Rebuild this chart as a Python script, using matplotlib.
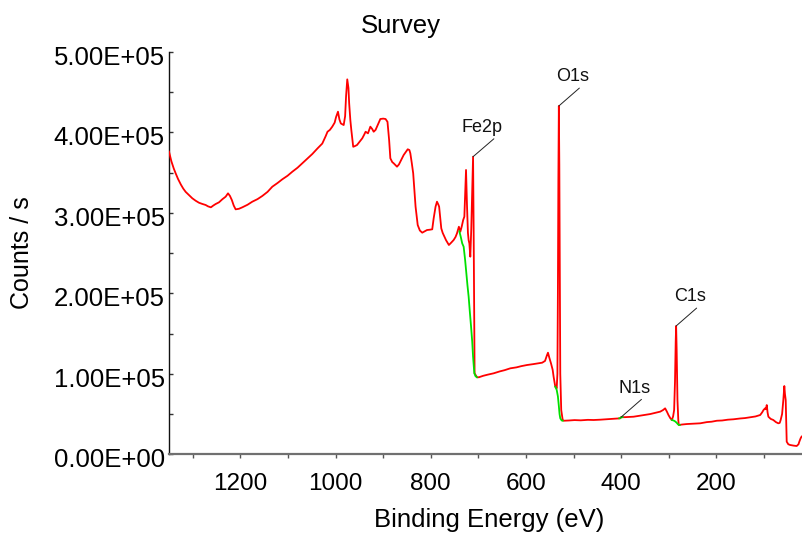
import matplotlib
matplotlib.use("Agg")
import matplotlib.pyplot as plt
import matplotlib.transforms as mtransforms
from matplotlib.ticker import FixedLocator, FuncFormatter

plt.rcParams["font.family"] = ["Liberation Sans", "DejaVu Sans"]

# Survey spectrum: binding energy (eV) and intensity (counts / s)
survey_be = [
    1350, 1345, 1340, 1336, 1331, 1325, 1320, 1315, 1308, 1301, 1294, 1287,
    1280, 1273, 1268, 1262, 1257, 1252, 1245, 1238, 1231, 1226, 1222, 1218,
    1214, 1210, 1203, 1196, 1185, 1175, 1164, 1154, 1143, 1133, 1122, 1112,
    1101, 1091, 1080, 1070, 1060, 1049, 1038, 1028, 1021, 1017, 1012, 1007,
    1002, 999, 995, 992, 989, 983, 980, 978, 975.5, 973, 971.5, 969, 967,
    963, 959, 955, 950, 944, 940, 937, 932, 927, 923, 920, 916, 913, 909,
    906, 900, 895, 891, 889, 887.5, 885, 881, 878, 874, 871, 867, 864, 860,
    857, 852, 848.5, 845, 843, 840, 837, 834, 832, 829, 827.5, 823, 818,
    813, 808, 802, 797, 794, 790, 787, 784, 782.5, 780, 778, 775, 773, 768,
    762, 757, 752, 748, 745, 741, 738, 735, 732, 729.5, 728, 726, 724, 722,
    720.5, 719, 717, 715, 713, 711.2, 710, 709, 708, 705, 703, 699, 690,
    680, 668, 655, 645, 633, 620, 610, 598, 585, 575, 566, 560, 556, 553.8,
    551, 547.5, 544, 542, 538.5, 535.5, 534, 533, 532, 531, 530, 529, 528,
    526, 523, 521, 510, 498, 485, 470, 458, 444, 430, 418, 402, 400.5, 390,
    374, 360, 350, 339, 328, 318, 312, 307.7, 304, 300.7, 297, 293.6, 291,
    288.8, 287, 285.5, 284.6, 283.5, 282.5, 281.8, 280, 279, 272, 262, 250,
    234, 220, 210, 199, 188, 176, 164, 150, 140, 129, 118, 108, 104, 101,
    97.8, 96, 94.2, 92.5, 90.8, 86, 80.4, 75, 70, 67, 65, 62, 59.4, 57.3,
    56, 54.4, 53, 52.3, 49, 45.3, 38, 31.3, 27.5, 25.8, 23, 21,
]
survey_counts = [
    376000, 364000, 355000, 349000, 342000, 335000, 330000, 326000, 322000,
    318000, 315000, 312500, 311000, 309700, 308000, 306800, 309000, 310900,
    313000, 316800, 320000, 324200, 321000, 315900, 309000, 304300, 305000,
    306800, 310000, 313800, 317000, 320900, 326000, 332400, 337000, 341600,
    346000, 351000, 356000, 361500, 367000, 373000, 380000, 386000, 395000,
    400700, 403000, 407000, 412000, 419000, 425600, 416000, 411000, 409000,
    420000, 445000, 465800, 455000, 436000, 415000, 403000, 382000, 383000,
    384200, 388000, 392500, 397000, 400700, 398700, 407000, 404000, 400700,
    403000, 407000, 412000, 416500, 417000, 416500, 413000, 400000, 390000,
    367700, 363000, 361500, 359000, 357300, 360000, 363500, 368000, 371800,
    376000, 378900, 378000, 373900, 362000, 349100, 325000, 307600, 293000,
    284800, 278000, 275300, 277000, 278600, 279000, 279500, 293000, 307600,
    313800, 310000, 307600, 293000, 280700, 275000, 272400, 266000, 260000,
    263000, 266200, 270000, 274500, 282700, 276500, 283000, 291000, 295200,
    320000, 353200, 310000, 275000, 266000, 262000, 245500, 280000, 330000,
    369700, 280000, 180000, 100600, 97500, 95700, 95700, 97500, 99000,
    100600, 103000, 104500, 106800, 108000, 109500, 110900, 112000, 113000,
    113800, 116000, 123000, 126200, 120000, 113000, 105000, 96400, 84000,
    82000, 100000, 200000, 340000, 432700, 360000, 220000, 100000, 55000,
    43000, 41700, 42000, 42500, 42200, 42800, 42600, 43000, 43600, 44000,
    44700, 46000, 46200, 46700, 48000, 49000, 50000, 51500, 53000, 55000,
    57100, 53000, 48800, 45000, 42600, 47000, 55000, 90000, 140000, 159400,
    130000, 90000, 67400, 42000, 36400, 37000, 37600, 38000, 38500, 40000,
    40500, 41700, 42000, 43000, 43500, 44500, 45000, 46000, 47000, 48800,
    52000, 55000, 57100, 56000, 61200, 52000, 46700, 44000, 42600, 40000,
    38500, 39000, 42600, 50000, 67400, 84800, 75000, 67400, 35000, 15700,
    12500, 11600, 10800, 10300, 12500, 15700, 20000, 22000,
]

# Shirley-type backgrounds under the fitted regions
fe2p_bg_be = [740, 737, 734, 731, 728, 725.3, 723, 720.5, 718, 715.4, 713,
              711.2, 709.5, 708.5, 706, 703]
fe2p_bg_counts = [277000, 270000, 262000, 257900, 242000, 224800, 210000,
                  195800, 177000, 158500, 140000, 121200, 108000, 100600,
                  97000, 95700]
o1s_bg_be = [538.5, 535.5, 533, 531, 529.5, 528, 525, 523]
o1s_bg_counts = [84000, 80000, 72000, 60000, 50000, 44700, 42000, 41700]
n1s_bg_be = [404, 402, 400, 397]
n1s_bg_counts = [44700, 45000, 46000, 46200]
c1s_bg_be = [293.6, 290, 287, 284, 281, 279, 277]
c1s_bg_counts = [42600, 42000, 41000, 39500, 37500, 36400, 36500]

# Peak labels: name, binding energy and intensity of the labelled peak
peak_names = ["Fe2p", "O1s", "N1s", "C1s"]
peak_be = [711.2, 531, 400.5, 284.6]
peak_counts = [369700, 432700, 46000, 159400]

x_major = [200, 400, 600, 800, 1000, 1200]
x_minor = [100, 300, 500, 700, 900, 1100, 1300]
y_major = [0, 100000, 200000, 300000, 400000, 500000]
y_minor = [50000, 150000, 250000, 350000, 450000]

fig = plt.figure(figsize=(8.02, 5.34), dpi=100)
ax = fig.add_axes([169 / 802, 79.7 / 534, (811.6 - 169) / 802,
                   (454.3 - 51.8) / 534])

ax.plot(survey_be, survey_counts, color="#ff0000", lw=1.3, zorder=3)
for bx, by in [(fe2p_bg_be, fe2p_bg_counts), (o1s_bg_be, o1s_bg_counts),
               (n1s_bg_be, n1s_bg_counts), (c1s_bg_be, c1s_bg_counts)]:
    ax.plot(bx, by, color="#00e000", lw=1.3, zorder=4)

for name, px, py in zip(peak_names, peak_be, peak_counts):
    ax.annotate(name, xy=(px, py), xytext=(21.5, 21), textcoords="offset points",
                ha="right", va="center", fontsize=13, color="#111111",
                arrowprops=dict(arrowstyle="-", color="#222222", lw=0.7,
                                shrinkA=0, shrinkB=0, relpos=(1.05, 0.4)),
                zorder=5)

ax.set_xlim(1350, 0)
ax.set_ylim(0, 500000)

ax.xaxis.set_major_locator(FixedLocator(x_major))
ax.xaxis.set_minor_locator(FixedLocator(x_minor))
ax.yaxis.set_major_locator(FixedLocator(y_major))
ax.yaxis.set_minor_locator(FixedLocator(y_minor))
ax.yaxis.set_major_formatter(FuncFormatter(lambda v, _: f"{v:.2E}"))

ax.tick_params(axis="x", which="both", direction="out", length=3, width=1,
               color="#555555", labelsize=17.5, pad=10.5)
ax.tick_params(axis="y", which="both", direction="in", length=3, width=1,
               color="#333333", labelsize=18.5, pad=3)

for side in ("top", "right"):
    ax.spines[side].set_visible(False)
ax.spines["left"].set_color("#111111")
ax.spines["left"].set_linewidth(1.0)
ax.spines["bottom"].set_color("#707070")
ax.spines["bottom"].set_linewidth(1.6)

shift = mtransforms.ScaledTranslation(0, -3.5 / 100, fig.dpi_scale_trans)
for lbl in ax.get_yticklabels():
    lbl.set_transform(lbl.get_transform() + shift)

fig.text(0.5, (534 - 32.5) / 534, "Survey", ha="center", va="baseline",
         fontsize=18.5)
fig.text(22.5 / 802, (534 - 253) / 534, "Counts / s", rotation=90,
         ha="center", va="center", fontsize=18)
fig.text(489.5 / 802, (534 - 527.5) / 534, "Binding Energy (eV)", ha="center",
         va="baseline", fontsize=18.5)

fig.savefig("out.png", dpi=100)
